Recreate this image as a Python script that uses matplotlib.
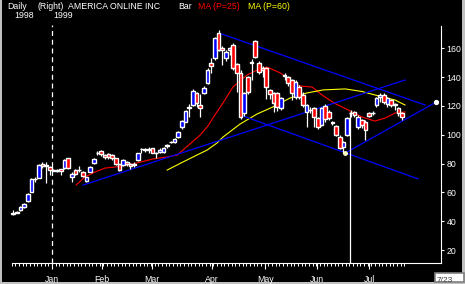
import numpy as np
import matplotlib
matplotlib.use('Agg')
import matplotlib.pyplot as plt
from matplotlib.patches import Rectangle

plt.rcParams['font.family'] = ['Liberation Sans', 'DejaVu Sans']

# daily bars (open, high, low, close), mid Dec 1998 .. Jul 1999
opens = [45.0, 46.0, 47.7, 50.0, 54.2, 60.5, 69.0, 70.2, 79.7, 79.0, 77.4,
         75.2, 74.5, 75.9, 77.1, 83.6, 71.0, 75.5, 75.3, 74.0, 68.2, 74.4, 80.6, 87.0, 88.7,
         85.9, 86.4, 85.9, 83.6, 79.7, 79.0, 81.3, 80.0, 79.0, 82.5, 89.9, 89.3, 89.6, 90.6,
         87.0, 88.0, 87.8, 92.4, 95.0, 95.2, 98.2, 105.6, 109.0, 118.8, 120.6, 128.8, 120.6,
         128.8, 135.7, 149.6, 153.0, 170.4, 160.4, 153.0, 158.8, 162.3, 148.9, 142.6, 114.9,
         140.3, 149.6, 165.1, 149.6, 146.0, 146.1, 131.0, 128.8, 128.8, 118.4, 140.5, 140.3,
         138.0, 126.4, 133.4, 127.6, 116.0, 117.0, 118.3, 111.4, 106.8, 120.0, 116.0, 108.0,
         106.0, 98.6, 91.7, 99.8, 115.0, 116.0, 105.6, 110.2, 109.0, 115.0, 115.0, 120.6,
         126.0, 127.6, 121.3, 124.1, 121.0, 118.3, 114.9]
highs = [47.5, 47.0, 50.3, 52.5, 59.5, 70.0, 71.0, 80.0, 81.0, 81.0, 78.0,
         76.5, 76.0, 76.5, 83.0, 84.2, 74.0, 76.0, 78.0, 75.0, 71.0, 78.0, 84.0, 88.5, 89.3,
         86.5, 87.0, 86.5, 84.0, 80.0, 83.0, 82.0, 80.5, 81.0, 87.5, 91.0, 90.5, 91.5, 91.0,
         88.0, 90.5, 91.5, 93.5, 96.0, 97.5, 102.5, 110.5, 117.5, 121.0, 131.5, 130.0, 128.0,
         133.5, 146.6, 153.0, 168.0, 172.7, 161.5, 158.5, 161.0, 163.5, 150.0, 145.0, 130.0,
         141.0, 152.5, 166.0, 151.0, 147.5, 147.0, 132.0, 130.0, 130.0, 126.5, 142.5, 141.0,
         139.0, 138.0, 134.5, 130.0, 121.0, 119.0, 119.5, 112.5, 119.5, 121.0, 117.0, 109.5,
         107.0, 99.5, 96.0, 112.0, 117.0, 116.5, 113.5, 111.0, 110.0, 116.0, 116.5, 126.0,
         129.0, 129.0, 126.0, 125.0, 122.0, 119.0, 115.5]
lows = [44.5, 45.5, 47.2, 49.5, 53.5, 60.0, 67.5, 70.0, 77.0, 66.7, 72.0,
        74.5, 74.0, 72.0, 76.5, 76.5, 67.4, 72.0, 74.0, 70.5, 67.5, 74.0, 80.0, 86.0, 85.5,
        83.0, 83.0, 82.5, 79.0, 75.0, 78.5, 78.5, 76.5, 77.5, 82.0, 87.0, 88.0, 87.5, 87.0,
        84.0, 87.5, 87.5, 91.0, 94.0, 94.5, 97.5, 104.0, 108.5, 112.5, 120.0, 119.5, 112.5,
        128.0, 135.0, 143.0, 152.0, 158.0, 148.4, 151.0, 155.0, 145.0, 130.0, 111.0, 113.0,
        128.0, 138.0, 153.0, 142.0, 140.0, 125.0, 125.0, 116.0, 116.5, 117.0, 138.0, 134.0,
        124.0, 125.0, 125.0, 119.5, 105.6, 115.0, 105.6, 104.0, 106.0, 109.0, 110.0, 106.5,
        99.0, 90.0, 87.1, 99.0, 112.0, 112.0, 104.0, 104.5, 96.5, 112.0, 113.5, 119.5,
        123.0, 121.0, 119.5, 119.0, 117.0, 113.0, 110.5]
closes = [45.5, 46.3, 49.6, 51.7, 58.9, 69.3, 69.3, 79.0, 78.3, 78.5, 75.5,
          75.0, 75.2, 74.5, 82.5, 77.1, 73.0, 72.8, 75.6, 71.5, 70.5, 77.4, 83.0, 87.3, 86.4,
          84.8, 84.8, 83.6, 79.7, 75.5, 82.5, 79.5, 78.5, 79.5, 87.1, 90.2, 89.8, 89.9, 87.6,
          87.2, 89.5, 91.0, 92.6, 95.3, 96.8, 101.7, 109.5, 116.7, 119.5, 130.4, 121.8, 118.3,
          132.6, 144.9, 148.0, 167.0, 158.8, 158.8, 157.6, 160.0, 146.1, 142.6, 112.5, 128.8,
          129.9, 150.2, 154.2, 143.8, 145.0, 133.4, 128.0, 121.8, 119.5, 125.3, 141.5, 135.7,
          128.8, 136.8, 126.4, 120.6, 120.6, 117.3, 112.5, 105.6, 118.3, 110.7, 111.4, 108.5,
          99.8, 90.6, 95.2, 111.4, 115.3, 113.5, 112.5, 106.8, 103.3, 113.0, 115.3, 125.3,
          127.5, 123.0, 125.3, 120.6, 120.5, 114.9, 112.1]

# moving averages (bar position, price)
ma25_x = [17.2, 19.6, 22.3, 25.1, 27.8, 32.7, 38.1, 42.0, 44.7, 46.3, 48.2, 51.0, 53.1, 55.0,
          57.2, 59.9, 63.8, 66.5, 69.2, 72.8, 75.5, 78.2, 81.5, 84.2, 87.5, 91.3, 95.1, 98.6,
          101.4, 104.1, 106.8]
ma25_y = [65.1, 70.7, 74.1, 76.9, 77.6, 79.7, 83.2, 84.6, 85.9, 89.4, 93.6, 99.8, 106.1, 113.7,
          122.0, 133.1, 141.5, 144.9, 147.0, 142.9, 138.0, 133.8, 133.1, 127.6, 122.0, 117.2,
          112.3, 109.5, 111.6, 115.1, 115.8]
ma60_x = [42.0, 46.3, 50.1, 52.9, 55.6, 57.2, 61.9, 66.5, 70.8, 75.5, 80.1, 84.5, 90.5, 95.1,
          98.6, 104.1, 106.8]
ma60_y = [75.5, 81.1, 85.9, 89.4, 94.3, 98.4, 107.5, 114.4, 119.3, 125.5, 129.0, 131.1, 131.8,
          130.0, 127.6, 124.1, 120.6]

# trend lines (start, end)
trend_x = [(19.1, 106.8), (56.9, 112.3), (61.9, 110.4), (90.5, 115.3)]
trend_y = [(65.1, 138.0), (169.9, 120.6), (113.7, 69.3), (87.3, 122.7)]

month_pos = [10.6, 24.25, 37.9, 54.2, 68.7, 82.8, 97.0]
month_labels = ['Jan', 'Feb', 'Mar', 'Apr', 'May', 'Jun', 'Jul']
year_line = 10.6
cursor_bar, cursor_top = 91.8, 115.5

W, H = 465, 284
fig = plt.figure(figsize=(W / 100, H / 100), dpi=100, facecolor='#c0c0c0')
bg = fig.add_axes([2 / W, 2 / H, 460 / W, 282 / H])
bg.set_axis_off()
bg.add_patch(Rectangle((0, 0), 1, 1, transform=bg.transAxes, color='black'))
# date box in the lower right corner
bg.add_patch(Rectangle((433 / 460, 0), 29 / 460, 9 / 282, transform=bg.transAxes,
                       facecolor='white', edgecolor='#808080', lw=1.2, clip_on=False))
fig.text(437 / W, 1 - 280.5 / H, '7/23', color='#404040', fontsize=6, ha='left', va='center')

ax = fig.add_axes([2 / W, 21 / H, 439 / W, 263 / H])
ax.patch.set_alpha(0)
ax.set_xlim(-3.0, 116.6)
ax.set_ylim(11, 193.5)

x = np.arange(len(opens))
o = np.array(opens)
c = np.array(closes)
ax.vlines(x, lows, highs, color='white', lw=0.9, zorder=3)
cols = np.where(c > o, '#0000ff', '#ff0000')
ax.bar(x, c - o, bottom=o, width=1.0, color=cols, edgecolor='white', linewidth=1.0, zorder=4)

ax.plot(ma25_x, ma25_y, color='#ff0000', lw=0.8, zorder=2)
ax.plot(ma60_x, ma60_y, color='#ffff00', lw=0.8, zorder=2)
for tx, ty in zip(trend_x, trend_y):
    ax.plot(tx, ty, color='#0000ff', lw=0.9, zorder=2)
ax.plot(trend_x[3][0], trend_y[3][0], 'o', ms=2.5, color='#ffffc0', zorder=5)
ax.plot(trend_x[3][1], trend_y[3][1], 'o', ms=2.8, color='white', zorder=5)

ax.vlines(year_line, 11, 176, color='white', lw=0.9, linestyles=(0, (4, 3)), zorder=5)
ax.vlines(cursor_bar, 11, cursor_top, color='white', lw=0.9, zorder=5)

for s in ['left', 'top']:
    ax.spines[s].set_visible(False)
ax.spines['right'].set_color('white')
ax.spines['bottom'].set_color('white')
ax.spines['right'].set_bounds(11, 175.5)
ax.spines['bottom'].set_bounds(-0.3, 116.6)

ax.yaxis.tick_right()
ax.set_yticks(range(20, 161, 20))
ax.tick_params(axis='y', colors='white', labelsize=6.3, length=2.5, width=0.8, pad=1.5)
ax.set_xticks(month_pos, month_labels)
ax.set_xticks(np.arange(-0.4, 107, 1.0), minor=True)
ax.tick_params(axis='x', which='major', colors='white', labelsize=6.3, length=4.5, width=0.8, pad=4)
ax.tick_params(axis='x', which='minor', colors='white', length=2.2, width=0.7)

def label(px, py, s, color='white'):
    fig.text(px / W, 1 - py / H, s, color=color, fontsize=6.3, ha='left', va='center')

label(7, 6.5, 'Daily')
label(37, 6.5, '(Right)')
label(68, 6.5, 'AMERICA ONLINE INC')
label(178, 6.5, 'Bar')
label(198, 6.5, 'MA (P=25)', '#ff0000')
label(248, 6.5, 'MA (P=60)', '#ffff00')
label(14, 16, '1998')
label(53, 16, '1999')

fig.savefig('out.png', dpi=100, facecolor=fig.get_facecolor())
